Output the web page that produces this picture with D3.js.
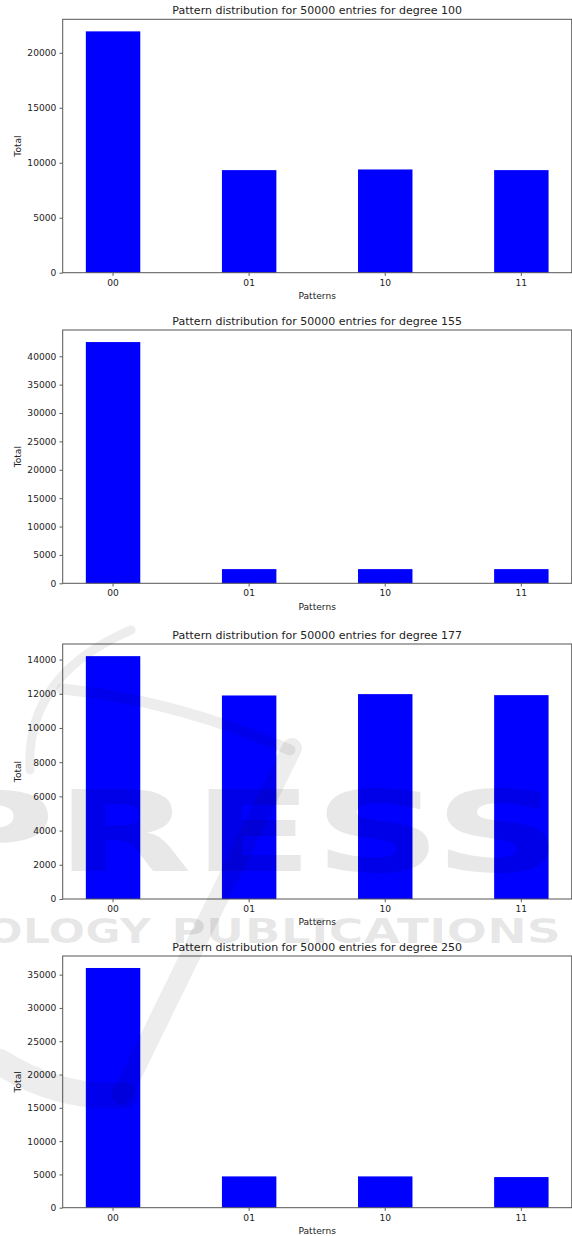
<!DOCTYPE html>
<html>
<head>
<meta charset="utf-8">
<script src="https://cdnjs.cloudflare.com/ajax/libs/d3/7.8.5/d3.min.js"></script>
<style>
    body { margin: 0; background: #fff; }
    svg { display: block; }
    text { font-family: "DejaVu Sans", sans-serif; }
</style>
</head>
<body>
<div id="chart"></div>
<script>
// data
var patterns = ["00", "01", "10", "11"];
var degrees = [100, 155, 177, 250];
var entries = 50000;

var totals100 = [21950, 9330, 9390, 9330];
var totals155 = [42500, 2500, 2500, 2500];
var totals177 = [14200, 11900, 11980, 11920];
var totals250 = [36000, 4700, 4700, 4600];

var ticks100 = [0, 5000, 10000, 15000, 20000];
var ticks155 = [0, 5000, 10000, 15000, 20000, 25000, 30000, 35000, 40000];
var ticks177 = [0, 2000, 4000, 6000, 8000, 10000, 12000, 14000];
var ticks250 = [0, 5000, 10000, 15000, 20000, 25000, 30000, 35000];

var allTotals = [totals100, totals155, totals177, totals250];
var allTicks = [ticks100, ticks155, ticks177, ticks250];

var width = 572,
    height = 1236;

// each panel was pasted in separately, so the axes sit a little unevenly
var left = 62.7, right = 571.7;
var panelTop = [19.3, 330, 644, 956];
var panelBottom = [272.7, 583.3, 899, 1207.7];

var svg = d3.select("#chart")
    .append("svg")
    .attr("width", width)
    .attr("height", height);

for (var i = 0; i < degrees.length; i++) {
    createChart(i);
}

drawWatermark();

function createChart(k) {
    var top = panelTop[k],
        bottom = panelBottom[k],
        totals = allTotals[k];

    var x = d3.scaleBand()
        .domain(patterns)
        .range([left, right])
        .paddingInner(0.6)
        .paddingOuter(0.17);

    var y = d3.scaleLinear()
        .domain([0, d3.max(totals) * 1.05])
        .range([bottom, top]);

    var g = svg.append("g");

    g.selectAll("rect.bar")
        .data(totals)
        .enter()
        .append("rect")
        .attr("class", "bar")
        .attr("x", function (d, j) { return x(patterns[j]); })
        .attr("y", function (d) { return y(d); })
        .attr("width", x.bandwidth())
        .attr("height", function (d) { return bottom - y(d); })
        .style("fill", "#0000ff");

    var yAxis = g.append("g")
        .attr("transform", "translate(" + left + ",0)")
        .call(d3.axisLeft(y).tickValues(allTicks[k]).tickFormat(d3.format("d")).tickSize(3.2).tickPadding(3.2));

    var xAxis = g.append("g")
        .attr("transform", "translate(0," + bottom + ")")
        .call(d3.axisBottom(x).tickSize(3.2).tickPadding(3.2));

    [yAxis, xAxis].forEach(function (a) {
        a.select(".domain").remove();
        a.selectAll("line").style("stroke", "#333").style("stroke-width", 0.8);
        a.selectAll("text")
            .style("font-size", "9.1px")
            .style("font-family", "'DejaVu Sans', sans-serif")
            .style("fill", "#222");
    });

    // frame
    g.append("rect")
        .attr("x", left)
        .attr("y", top)
        .attr("width", right - left)
        .attr("height", bottom - top)
        .style("fill", "none")
        .style("stroke", "#555")
        .style("stroke-width", 1);

    g.append("text")
        .attr("x", (left + right) / 2)
        .attr("y", top - 5.5)
        .attr("text-anchor", "middle")
        .style("font-size", "11px")
        .style("fill", "#222")
        .text("Pattern distribution for " + entries + " entries for degree " + degrees[k]);

    g.append("text")
        .attr("x", (left + right) / 2)
        .attr("y", bottom + 26.3)
        .attr("text-anchor", "middle")
        .style("font-size", "9.1px")
        .style("fill", "#222")
        .text("Patterns");

    g.append("text")
        .attr("transform", "translate(20.8," + (top + bottom) / 2 + ") rotate(-90)")
        .attr("text-anchor", "middle")
        .style("font-size", "9.1px")
        .style("fill", "#222")
        .text("Total");
}

// faint publisher watermark over the lower panels
function drawWatermark() {
    var wm = svg.append("g")
        .style("pointer-events", "none");

    var strokes = [
        "M131,630 Q25,675 30,770",
        "M62,689 Q175,700 290,750",
        "M292,748 L122,1095",
        "M0,1062 Q60,1100 125,1095"
    ];
    var widths = [9, 11, 20, 26];

    wm.selectAll("path")
        .data(strokes)
        .enter()
        .append("path")
        .attr("d", function (d) { return d; })
        .style("fill", "none")
        .style("stroke", "#000")
        .style("stroke-opacity", 0.07)
        .style("stroke-linecap", "round")
        .style("stroke-width", function (d, j) { return widths[j]; });

    wm.append("text")
        .attr("x", -75)
        .attr("y", 871)
        .attr("textLength", 637)
        .attr("lengthAdjust", "spacingAndGlyphs")
        .style("font-size", "112px")
        .style("font-weight", "bold")
        .style("fill", "#000")
        .style("fill-opacity", 0.09)
        .text("PRESS");

    wm.append("text")
        .attr("x", -14)
        .attr("y", 943)
        .attr("textLength", 165)
        .attr("lengthAdjust", "spacingAndGlyphs")
        .style("font-size", "34px")
        .style("font-weight", "bold")
        .style("fill", "#000")
        .style("fill-opacity", 0.09)
        .text("OLOGY");

    wm.append("text")
        .attr("x", 171)
        .attr("y", 943)
        .attr("textLength", 390)
        .attr("lengthAdjust", "spacingAndGlyphs")
        .style("font-size", "34px")
        .style("font-weight", "bold")
        .style("fill", "#000")
        .style("fill-opacity", 0.09)
        .text("PUBLICATIONS");
}
</script>
</body>
</html>
